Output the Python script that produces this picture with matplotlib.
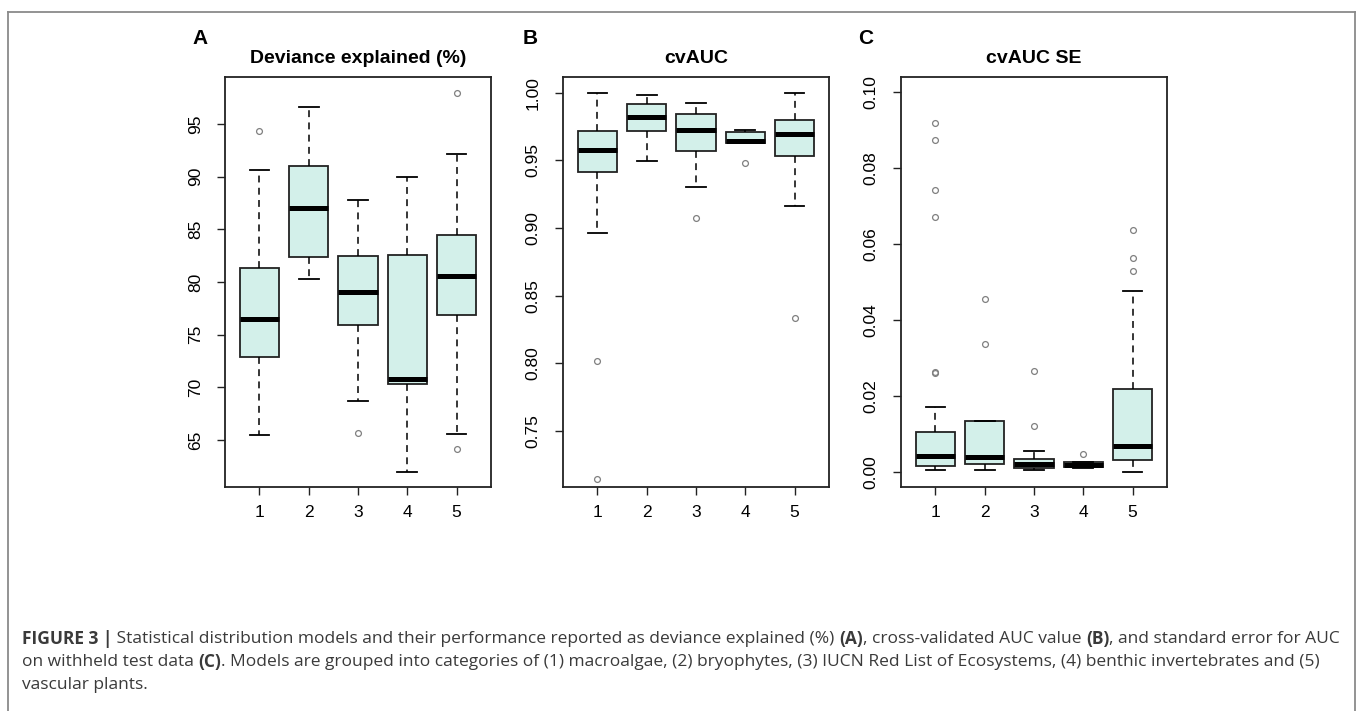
import numpy as np
import matplotlib
matplotlib.use("Agg")
import matplotlib.pyplot as plt
from matplotlib.lines import Line2D

plt.rcParams['font.family'] = ['Liberation Sans', 'DejaVu Sans']

W, H = 1358, 711
groups = [1, 2, 3, 4, 5]

# A - deviance explained (%)
dev_whislo = [65.5, 80.3, 68.7, 62.0, 65.6]
dev_q1 = [72.9, 82.4, 75.9, 70.3, 76.9]
dev_med = [76.5, 87.0, 79.05, 70.8, 80.55]
dev_q3 = [81.3, 91.0, 82.45, 82.6, 84.45]
dev_whishi = [90.6, 96.6, 87.75, 90.0, 92.15]
dev_fliers = [[94.3], [], [65.7], [], [97.95, 64.15]]

# B - cvAUC
auc_whislo = [0.8962, 0.9491, 0.9300, 0.9629, 0.9164]
auc_q1 = [0.9410, 0.9717, 0.9565, 0.9629, 0.9533]
auc_med = [0.9575, 0.9818, 0.9720, 0.9639, 0.9695]
auc_q3 = [0.9715, 0.9914, 0.9843, 0.9712, 0.9794]
auc_whishi = [1.0000, 0.9985, 0.9926, 0.9720, 1.0000]
auc_fliers = [[0.8019, 0.7146], [], [0.9073], [0.9479], [0.8336]]

# C - cvAUC SE
se_whislo = [0.00035, 0.0006, 0.0006, 0.0010, 0.0000]
se_q1 = [0.0016, 0.0020, 0.00105, 0.0012, 0.0032]
se_med = [0.0041, 0.0040, 0.0020, 0.0018, 0.0068]
se_q3 = [0.01044, 0.0135, 0.0034, 0.00254, 0.0218]
se_whishi = [0.0172, 0.0135, 0.0054, 0.0027, 0.0475]
se_fliers = [[0.0918, 0.0874, 0.0742, 0.0670, 0.0262, 0.0259],
             [0.0455, 0.0338], [0.0266, 0.0122], [0.0048],
             [0.0637, 0.0564, 0.0530]]

panels = [
    ("A", "Deviance explained (%)", dev_whislo, dev_q1, dev_med, dev_q3, dev_whishi, dev_fliers,
     (60.56, 99.44), [65, 70, 75, 80, 85, 90, 95], "{:.0f}"),
    ("B", "cvAUC", auc_whislo, auc_q1, auc_med, auc_q3, auc_whishi, auc_fliers,
     (0.7087, 1.0115), [0.75, 0.80, 0.85, 0.90, 0.95, 1.00], "{:.2f}"),
    ("C", "cvAUC SE", se_whislo, se_q1, se_med, se_q3, se_whishi, se_fliers,
     (-0.004, 0.104), [0.00, 0.02, 0.04, 0.06, 0.08, 0.10], "{:.2f}"),
]
axes_left = [225, 563, 901]
letter_x = [200, 530, 866]
ax_w = 266
ax_top, ax_bot = 77, 487

fig = plt.figure(figsize=(W / 100, H / 100), dpi=100)

for i, (letter, title, wlo, q1, med, q3, whi, fl, ylim, yt, fmt) in enumerate(panels):
    ax = fig.add_axes([axes_left[i] / W, 1 - ax_bot / H, ax_w / W, (ax_bot - ax_top) / H])
    stats = [dict(whislo=wlo[k], q1=q1[k], med=med[k], q3=q3[k], whishi=whi[k], fliers=fl[k])
             for k in range(len(groups))]
    ax.bxp(stats, positions=groups, widths=0.8, capwidths=0.4, patch_artist=True,
           boxprops=dict(facecolor='#d3f0ea', edgecolor='#222222', linewidth=1.3),
           medianprops=dict(color='black', linewidth=3.6, solid_capstyle='butt'),
           whiskerprops=dict(color='black', linewidth=1.1, linestyle=(0, (4.5, 3.5))),
           capprops=dict(color='black', linewidth=1.3),
           flierprops=dict(marker='o', markerfacecolor='none', markeredgecolor='#808080',
                           markersize=4.2, markeredgewidth=0.9))
    ax.set_xlim(0.3, 5.7)
    ax.set_ylim(*ylim)
    ax.set_xticks(groups)
    ax.set_xticklabels([str(g) for g in groups])
    ax.set_yticks(yt)
    ax.set_yticklabels([fmt.format(v) for v in yt], rotation=90, va='center')
    ax.tick_params(axis='both', direction='out', length=6, width=1, labelsize=12.5, color='#222222')
    ax.tick_params(axis='y', pad=10)
    ax.tick_params(axis='x', pad=7)
    for s in ax.spines.values():
        s.set_linewidth(1.3)
        s.set_color('#222222')
    ax.set_title(title, fontsize=14, fontweight='bold', pad=10)
    fig.text(letter_x[i] / W, 1 - 38 / H, letter, fontsize=15, fontweight='bold',
             ha='center', va='center')

# outer frame (open at the bottom)
fc = '#8a8a8a'
fig.add_artist(Line2D([8 / W, 8 / W], [0, 1 - 12 / H], transform=fig.transFigure, color=fc, lw=1.3))
fig.add_artist(Line2D([8 / W, 1355 / W], [1 - 12 / H, 1 - 12 / H], transform=fig.transFigure, color=fc, lw=1.3))
fig.add_artist(Line2D([1355 / W, 1355 / W], [0, 1 - 12 / H], transform=fig.transFigure, color=fc, lw=1.3))

# caption with mixed bold runs
caption = [
    [("FIGURE 3 |", True), (" Statistical distribution models and their performance reported as deviance explained (%) ", False),
     ("(A)", True), (", cross-validated AUC value ", False), ("(B)", True), (", and standard error for AUC", False)],
    [("on withheld test data ", False), ("(C)", True),
     (". Models are grouped into categories of (1) macroalgae, (2) bryophytes, (3) IUCN Red List of Ecosystems, (4) benthic invertebrates and (5)", False)],
    [("vascular plants.", False)],
]
line_y = [639, 662, 685]
renderer = fig.canvas.get_renderer()
for parts, y in zip(caption, line_y):
    x = 22 / W
    for s, bold in parts:
        t = fig.text(x, 1 - y / H, s, fontsize=12.5, color='#3a3a3a', va='center',
                     family=['Open Sans', 'DejaVu Sans'],
                     fontweight='bold' if bold else 'normal')
        bb = t.get_window_extent(renderer=renderer)
        x = fig.transFigure.inverted().transform((bb.x1, bb.y0))[0]

fig.savefig("out.png", dpi=100, facecolor='white')
